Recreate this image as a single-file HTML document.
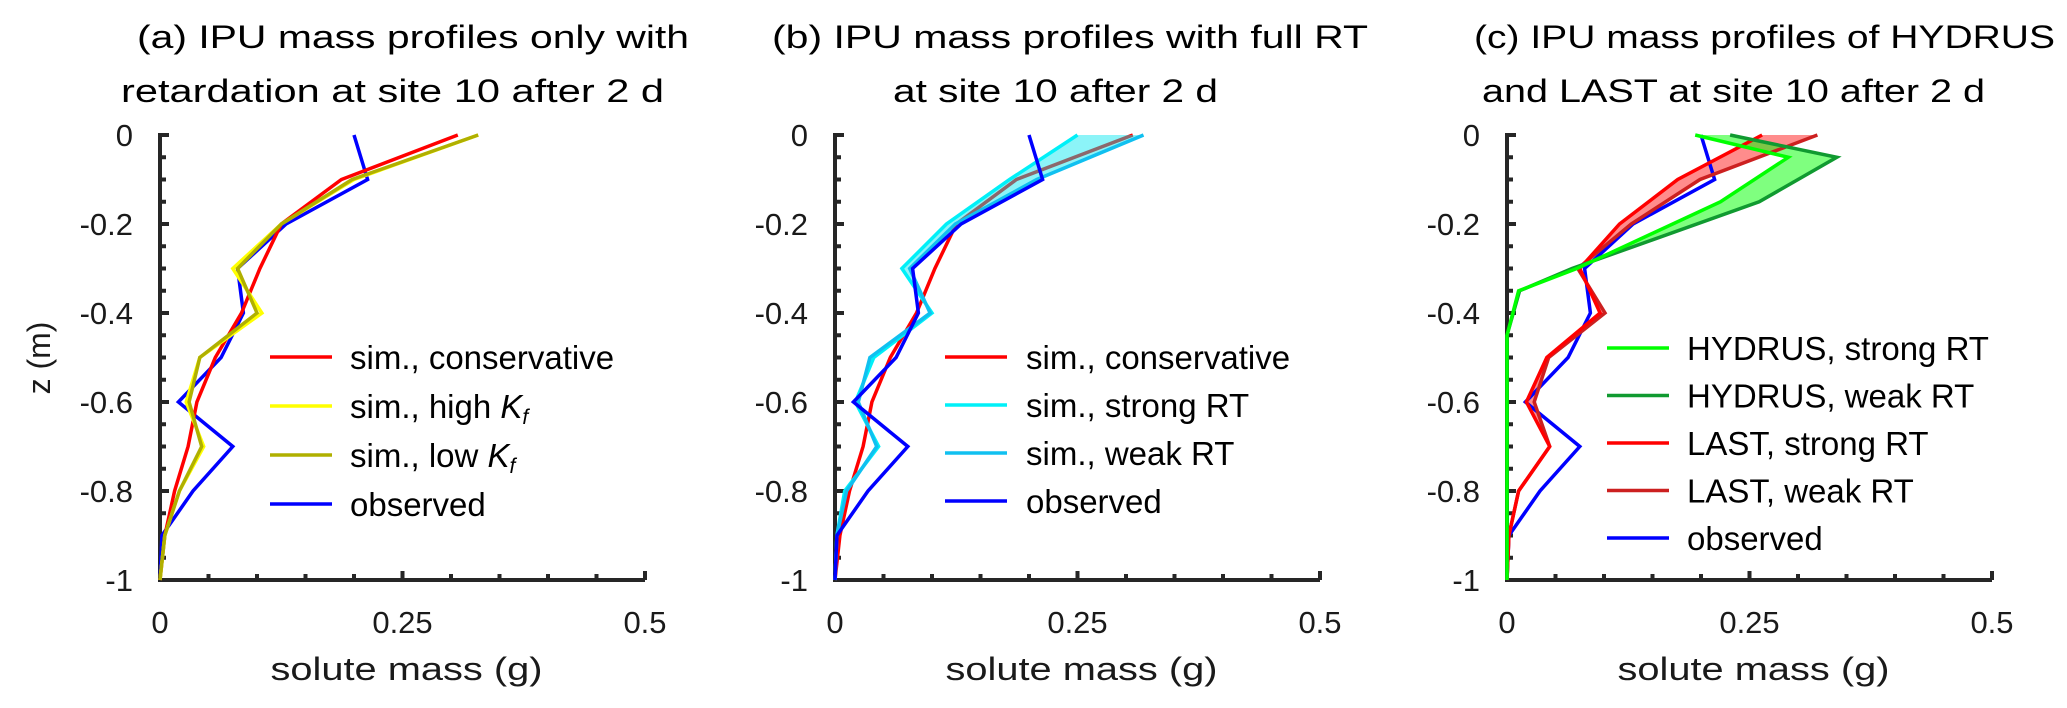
<!DOCTYPE html>
<html><head><meta charset="utf-8"><style>
html,body{margin:0;padding:0;background:#fff;}
svg{display:block;font-family:"Liberation Sans",sans-serif;}
</style></head><body>
<svg id="fig" width="2067" height="708" viewBox="0 0 2067 708" xmlns="http://www.w3.org/2000/svg">
<g font-size="32" fill="#000">
<text x="137" y="48" textLength="552" lengthAdjust="spacingAndGlyphs">(a) IPU mass profiles only with</text>
<text x="121" y="102" textLength="543" lengthAdjust="spacingAndGlyphs">retardation at site 10 after 2 d</text>
<text x="772" y="48" textLength="596" lengthAdjust="spacingAndGlyphs">(b) IPU mass profiles with full RT</text>
<text x="893" y="102" textLength="325" lengthAdjust="spacingAndGlyphs">at site 10 after 2 d</text>
<text x="1474" y="48" textLength="581" lengthAdjust="spacingAndGlyphs">(c) IPU mass profiles of HYDRUS</text>
<text x="1482" y="102" textLength="503" lengthAdjust="spacingAndGlyphs">and LAST at site 10 after 2 d</text>
</g>
<text font-size="32" fill="#1a1a1a" text-anchor="middle" transform="translate(50,358) rotate(-90)">z (m)</text>
</svg>
<script>
const depths = [0,-0.1,-0.2,-0.3,-0.4,-0.5,-0.6,-0.7,-0.8,-0.9,-1];
const observed = [0.2,0.214,0.13,0.08,0.086,0.063,0.019,0.075,0.034,0.002,0];
const conservative = [0.307,0.187,0.125,0.103,0.084,0.057,0.038,0.029,0.015,0.005,0];
const highKf = [0.328,0.2,0.125,0.075,0.105,0.041,0.027,0.045,0.02,0.005,0];
const lowKf = [0.328,0.198,0.125,0.08,0.1,0.041,0.03,0.043,0.02,0.005,0];
const strongRT = [0.25,0.18,0.115,0.069,0.1,0.04,0.021,0.045,0.01,0.002,0];
const weakRT = [0.318,0.208,0.124,0.077,0.098,0.036,0.024,0.043,0.012,0.002,0];
const hydrusDepths = [0,-0.05,-0.15,-0.3,-0.35,-0.45,-1];
const hydrusStrong = [0.194,0.29,0.22,0.072,0.012,0,0];
const hydrusWeak = [0.23,0.34,0.26,0.067,0.013,0,0];
const lastStrong = [0.263,0.176,0.116,0.075,0.096,0.041,0.02,0.044,0.012,0.002,0];
const lastWeak = [0.32,0.199,0.128,0.073,0.101,0.043,0.028,0.044,0.012,0.002,0];
const yTicks = [0,-0.2,-0.4,-0.6,-0.8,-1];
const yTickLabels = ["0","-0.2","-0.4","-0.6","-0.8","-1"];
const xTicks = [0,0.25,0.5];
const xTickLabels = ["0","0.25","0.5"];

const NS = "http://www.w3.org/2000/svg";
const svg = document.getElementById('fig');
const Y0 = 135, Y1 = 580, XW = 485;
const panels = [{x0:160},{x0:835},{x0:1507}];
function ys(v){return Y0 + (0 - v) * (Y1 - Y0);}
function mk(tag, attrs, parent){const e=document.createElementNS(NS,tag);for(const k in attrs)e.setAttribute(k,attrs[k]);(parent||svg).appendChild(e);return e;}
function xs(p,v){return p.x0 + v/0.5*XW;}
function pts(p,xv,zv){return xv.map((v,i)=>xs(p,v).toFixed(1)+','+ys(zv[i]).toFixed(1)).join(' ');}
function line(g,p,xv,zv,color,name){
  const e=mk('polyline',{points:pts(p,xv,zv),fill:'none',stroke:color,'stroke-width':3.5,'stroke-linejoin':'miter'},g);
  
  
}
function band(g,p,a,b,zv,color,name){
  const s=pts(p,a,zv)+' '+b.map((v,i)=>xs(p,v).toFixed(1)+','+ys(zv[i]).toFixed(1)).reverse().join(' ');
  const e=mk('polygon',{points:s,fill:color,stroke:'none'},g);
  
  
}
function axes(p,idx){
  const g=mk('g',{});
  
  
  const col='#262626';
  mk('line',{x1:p.x0,y1:Y0-2,x2:p.x0,y2:Y1+2,stroke:col,'stroke-width':4},g);
  mk('line',{x1:p.x0-2,y1:Y1,x2:xs(p,0.5),y2:Y1,stroke:col,'stroke-width':4},g);
  for(let i=0;i<=20;i++){const z=-i*0.05;const L=(i%4===0)?9:6;
    mk('line',{x1:p.x0,y1:ys(z),x2:p.x0+L,y2:ys(z),stroke:col,'stroke-width':4},g);}
  for(let i=0;i<=10;i++){const v=i*0.05;const L=(i%5===0)?9:6;
    mk('line',{x1:xs(p,v),y1:Y1,x2:xs(p,v),y2:Y1-L,stroke:col,'stroke-width':4},g);}
  yTicks.forEach((t,i)=>{const e=mk('text',{x:p.x0-27,y:ys(t)+11,'font-size':31,fill:'#1a1a1a','text-anchor':'end'},g);e.textContent=yTickLabels[i];
    
    });
  xTicks.forEach((t,i)=>{const e=mk('text',{x:xs(p,t),y:633,'font-size':31,fill:'#1a1a1a','text-anchor':'middle'},g);e.textContent=xTickLabels[i];
    
    });
  const xl=mk('text',{x:xs(p,0.25)+4,y:680,'font-size':32,fill:'#1a1a1a','text-anchor':'middle',textLength:272,lengthAdjust:'spacingAndGlyphs'},g);
  xl.textContent='solute mass (g)';
  
  
  return g;
}
function legend(entries,x,y0,dy,tx){
  const g=mk('g',{});
  
  
  entries.forEach((en,i)=>{const y=y0+i*dy;
    const it=mk('g',{},g);
    
    
    mk('line',{x1:x,y1:y,x2:x+62,y2:y,stroke:en[0],'stroke-width':3.5},it);
    const t=mk('text',{x:tx,y:y+12,'font-size':33,fill:'#000'},it);
    t.innerHTML=en[1];
  });
}
// panel a
let p=panels[0]; let g=axes(p,'a');
line(g,p,observed,depths,'#0000ff','observed-a');
line(g,p,conservative,depths,'#ff0000','conservative-a');
line(g,p,highKf,depths,'#ffff00','high-kf-a');
line(g,p,lowKf,depths,'#b0b000','low-kf-a');
legend([['#ff0000','sim., conservative'],['#ffff00','sim., high <tspan font-style="italic">K</tspan><tspan font-style="italic" font-size="21" dy="6">f</tspan>'],['#b0b000','sim., low <tspan font-style="italic">K</tspan><tspan font-style="italic" font-size="21" dy="6">f</tspan>'],['#0000ff','observed']],270,357,49,350);
// panel b
p=panels[1]; g=axes(p,'b');
line(g,p,conservative,depths,'#ff0000','conservative-b');
band(g,p,strongRT,weakRT,depths,'rgba(0,230,240,0.45)','rt-band-b');
line(g,p,strongRT,depths,'#00f0f8','strong-rt-b');
line(g,p,weakRT,depths,'#10c0f0','weak-rt-b');
line(g,p,observed,depths,'#0000ff','observed-b');
legend([['#ff0000','sim., conservative'],['#00f0f8','sim., strong RT'],['#10c0f0','sim., weak RT'],['#0000ff','observed']],945,357,48,1026);
// panel c
p=panels[2]; g=axes(p,'c');
band(g,p,lastStrong,lastWeak,depths,'rgba(255,0,0,0.45)','last-band-c');
band(g,p,hydrusStrong,hydrusWeak,hydrusDepths,'rgba(0,255,0,0.5)','hydrus-band-c');
line(g,p,observed,depths,'#0000ff','observed-c');
line(g,p,lastWeak,depths,'#cc2020','last-weak-c');
line(g,p,lastStrong,depths,'#ff0000','last-strong-c');
line(g,p,hydrusWeak,hydrusDepths,'#109a30','hydrus-weak-c');
line(g,p,hydrusStrong,hydrusDepths,'#00ff00','hydrus-strong-c');
legend([['#00ff00','HYDRUS, strong RT'],['#109a30','HYDRUS, weak RT'],['#ff0000','LAST, strong RT'],['#cc2020','LAST, weak RT'],['#0000ff','observed']],1607,348,47.5,1687);
</script>
</body></html>
